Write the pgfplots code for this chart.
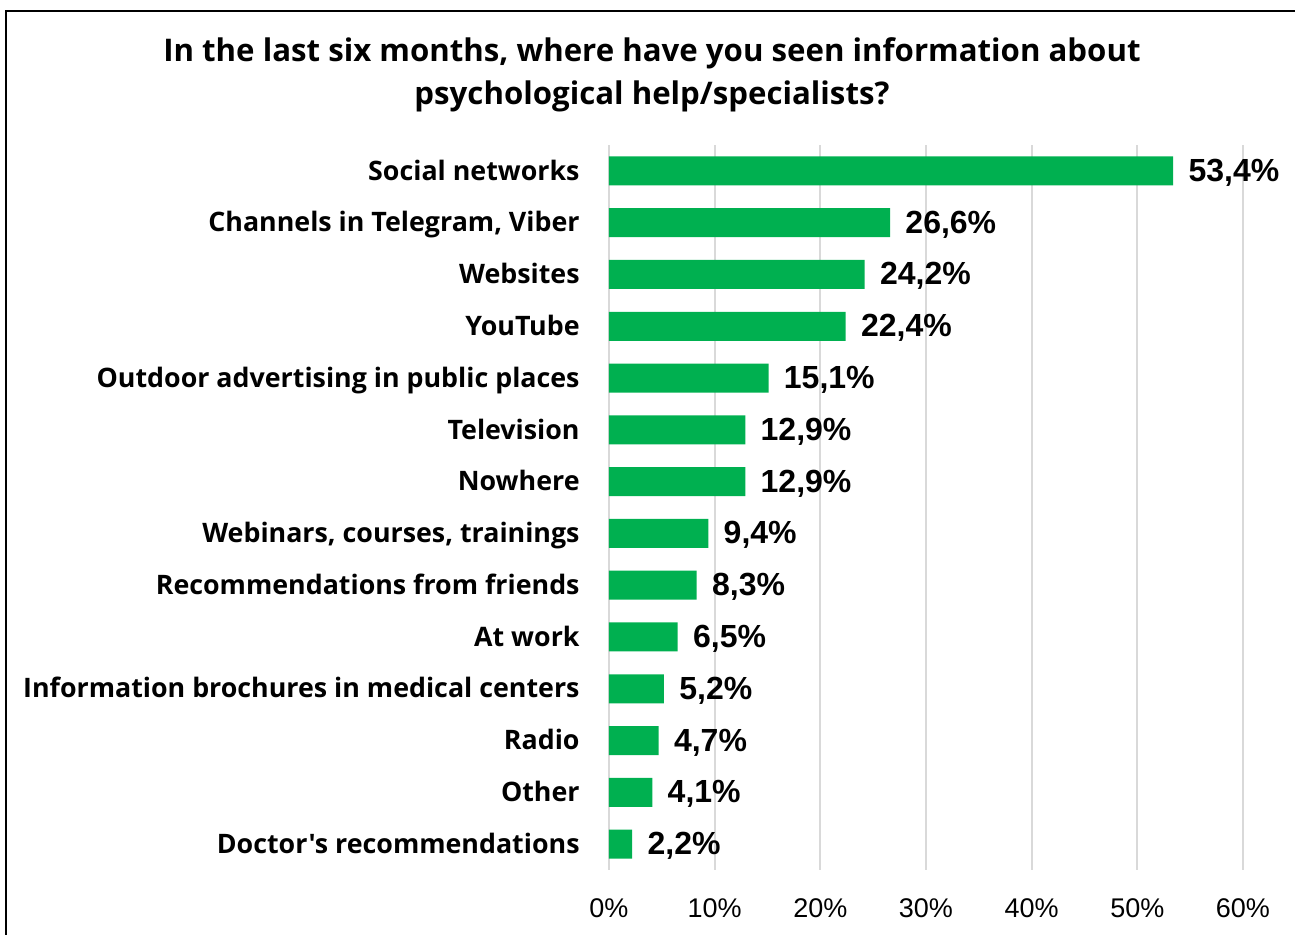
\documentclass[border=0pt]{standalone}
\usepackage{pgfplots}
\pgfplotsset{compat=1.18}
\usepackage{fontspec}
\setmainfont{Liberation Sans}
\newfontfamily\headfont{Open Sans}
\definecolor{barGreen}{HTML}{00B050}
\definecolor{gridGray}{HTML}{D9D9D9}

\begin{document}
\begin{tikzpicture}
\begin{axis}[
  at={(0,0)}, anchor=south west,
  scale only axis,
  width=317bp, height=362.5bp,
  xbar, bar width=14.5bp,
  xmin=0, xmax=60,
  ymin=-0.5, ymax=13.5,
  y dir=reverse,
  axis line style={draw=none},
  major tick length=0pt,
  xmajorgrids,
  grid style={color=gridGray, line width=1bp},
  xtick={0,10,20,30,40,50,60},
  xticklabels={0\%,10\%,20\%,30\%,40\%,50\%,60\%},
  xticklabel style={font=\fontsize{13.5bp}{16bp}\selectfont, inner sep=0pt, anchor=north, yshift=-14bp},
  ytick={0,...,13},
  yticklabels={
    Social networks,
    {Channels in Telegram, Viber},
    Websites,
    YouTube,
    Outdoor advertising in public places,
    Television,
    Nowhere,
    {Webinars, courses, trainings},
    Recommendations from friends,
    At work,
    Information brochures in medical centers,
    Radio,
    Other\hspace{0.4em},
    Doctor's recommendations},
  yticklabel style={font=\headfont\bfseries\fontsize{13.4bp}{16bp}\selectfont, inner sep=0pt, anchor=base east, xshift=-14.5bp, yshift=-4.6bp},
  /pgf/number format/assume math mode=true,
  nodes near coords={\pgfmathprintnumber[fixed,fixed zerofill,precision=1,use comma]{\pgfplotspointmeta}\%},
  every node near coord/.append style={font=\bfseries\fontsize{16bp}{19bp}\selectfont, text=black, anchor=base west, inner sep=0pt, xshift=7.5bp, yshift=-5.25bp},
]
\addplot[fill=barGreen, draw=none] coordinates {
  (53.4,0) (26.6,1) (24.2,2) (22.4,3) (15.1,4) (12.9,5) (12.9,6)
  (9.4,7) (8.3,8) (6.5,9) (5.2,10) (4.7,11) (4.1,12) (2.2,13)
};
\end{axis}
% chart title, two centred lines
\begin{scope}[every node/.style={font=\headfont\bfseries\fontsize{15.6bp}{18bp}\selectfont, anchor=base, inner sep=0pt}]
\node at (21.5bp,404bp) {In the last six months, where have you seen information about};
\node at (21.5bp,382.5bp) {psychological help/specialists?};
\end{scope}
% outer frame
\draw[line width=1.25bp] (-301.5bp,-40bp) -- (-301.5bp,429.5bp) -- (350bp,429.5bp);
\pgfresetboundingbox
\path[use as bounding box] (-304.5bp,-32.5bp) rectangle (343bp,435bp);
\end{tikzpicture}
\end{document}
